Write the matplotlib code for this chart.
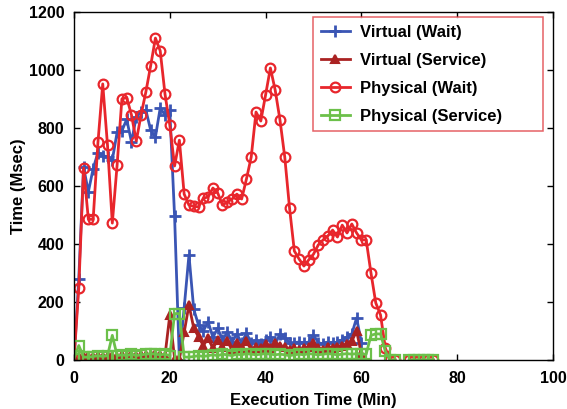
import numpy as np
import matplotlib
matplotlib.use("Agg")
import matplotlib.pyplot as plt

plt.rcParams['font.family'] = ['Liberation Sans', 'DejaVu Sans']
plt.rcParams['font.weight'] = 'bold'

N = np.nan
minutes = list(range(0, 77))

virtual_wait = [0, 280, 665, 580, 660, 715, 705, 700, 690, 785, 790, 830, 752, 838, 855, 862,
                793, 769, 869, 845, 862, 495, 0, 180, 362, 175, 120, 100, 132, 78, 110, 68,
                97, 62, 90, 58, 93, 58, 68, 55, 70, 79, 55, 90, 76, 60, 60, 62, 58, 62, 86,
                60, 55, 62, 58, 62, 70, 79, 90, 145, 60] + [N] * 16

virtual_service = [0, 12, 10, 14, 12, 15, 12, 14, 15, 12, 16, 14, 18, 15, 16, 18, 17, 20,
                   18, 15, 155, 5, 5, 95, 190, 110, 80, 50, 75, 40, 70, 45, 65, 35, 60, 40,
                   65, 35, 45, 40, 55, 40, 60, 50, 45, 35, 40, 35, 40, 45, 60, 40, 35, 45,
                   40, 45, 50, 55, 65, 100, 20] + [N] * 16

physical_wait = [0, 248, 662, 485, 485, 750, 952, 740, 472, 672, 900, 905, 845, 755, 845,
                 924, 1014, 1110, 1066, 917, 810, 669, 758, 572, 534, 530, 528, 558, 562,
                 593, 576, 534, 545, 555, 572, 555, 624, 700, 855, 824, 914, 1007, 931, 828,
                 700, 524, 376, 348, 324, 345, 365, 397, 414, 428, 448, 424, 465, 438, 469,
                 438, 414, 414, 300, 197, 155, 41, 0, 0, N, N, 0, 0, 0, 0, 0, 0, N]

physical_service = [5, 50, 10, 10, 12, 15, 12, 15, 85, 15, 18, 15, 20, 15, 18, 20, 22, 20,
                    18, 20, 15, 160, 160, 10, 10, 12, 15, 12, 15, 18, 15, 20, 18, 15, 20, 18,
                    22, 20, 18, 20, 22, 20, 18, 20, 18, 15, 18, 20, 18, 22, 20, 18, 20, 22,
                    20, 18, 20, 22, 20, 22, 20, 20, 85, 90, 90, 30, 0, 0, N, N, 0, 0, 0, 0,
                    0, 0, N]

x_ticks = [0, 20, 40, 60, 80, 100]
y_ticks = [0, 200, 400, 600, 800, 1000, 1200]

fig = plt.figure(figsize=(5.67, 4.09), dpi=100)
ax = fig.add_axes([0.1305, 0.1198, 0.9753 - 0.1305, 0.9707 - 0.1198])

ax.plot(minutes, virtual_wait, color='#3a55b4', lw=2, marker='+', ms=9, mew=2,
        label='Virtual (Wait)')
ax.plot(minutes, virtual_service, color='#aa2222', lw=2, marker='^', ms=6, mew=1.5,
        mfc='#aa2222', label='Virtual (Service)')
ax.plot(minutes, physical_wait, color='#e8262c', lw=2, marker='o', ms=7, mew=1.6,
        mfc='none', label='Physical (Wait)')
ax.plot(minutes, physical_service, color='#6cc04a', lw=2, marker='s', ms=6.5, mew=1.6,
        mfc='none', label='Physical (Service)')

ax.set_xlim(0, 100)
ax.set_ylim(0, 1200)
ax.set_xticks(x_ticks)
ax.set_yticks(y_ticks)
ax.tick_params(direction='in', top=True, right=True, labelsize=11.5, length=4, width=1)
ax.tick_params(axis='x', pad=8)
ax.tick_params(axis='y', pad=7)
for s in ax.spines.values():
    s.set_linewidth(1)
ax.set_xlabel('Execution Time (Min)', fontsize=12, fontweight='bold', labelpad=5)
ax.set_ylabel('Time (Msec)', fontsize=12, fontweight='bold', labelpad=2)

leg = ax.legend(loc='upper left', bbox_to_anchor=(0.499, 0.6695, 0.48, 0.316),
                mode='expand', borderaxespad=0, fontsize=12,
                frameon=True, fancybox=False, edgecolor='#e03a40', borderpad=0.45,
                handlelength=1.75, handletextpad=0.6, labelspacing=0.78)
leg.get_frame().set_linewidth(1.1)
for t in leg.get_texts():
    t.set_fontweight('bold')

fig.savefig('out.png', dpi=100)
